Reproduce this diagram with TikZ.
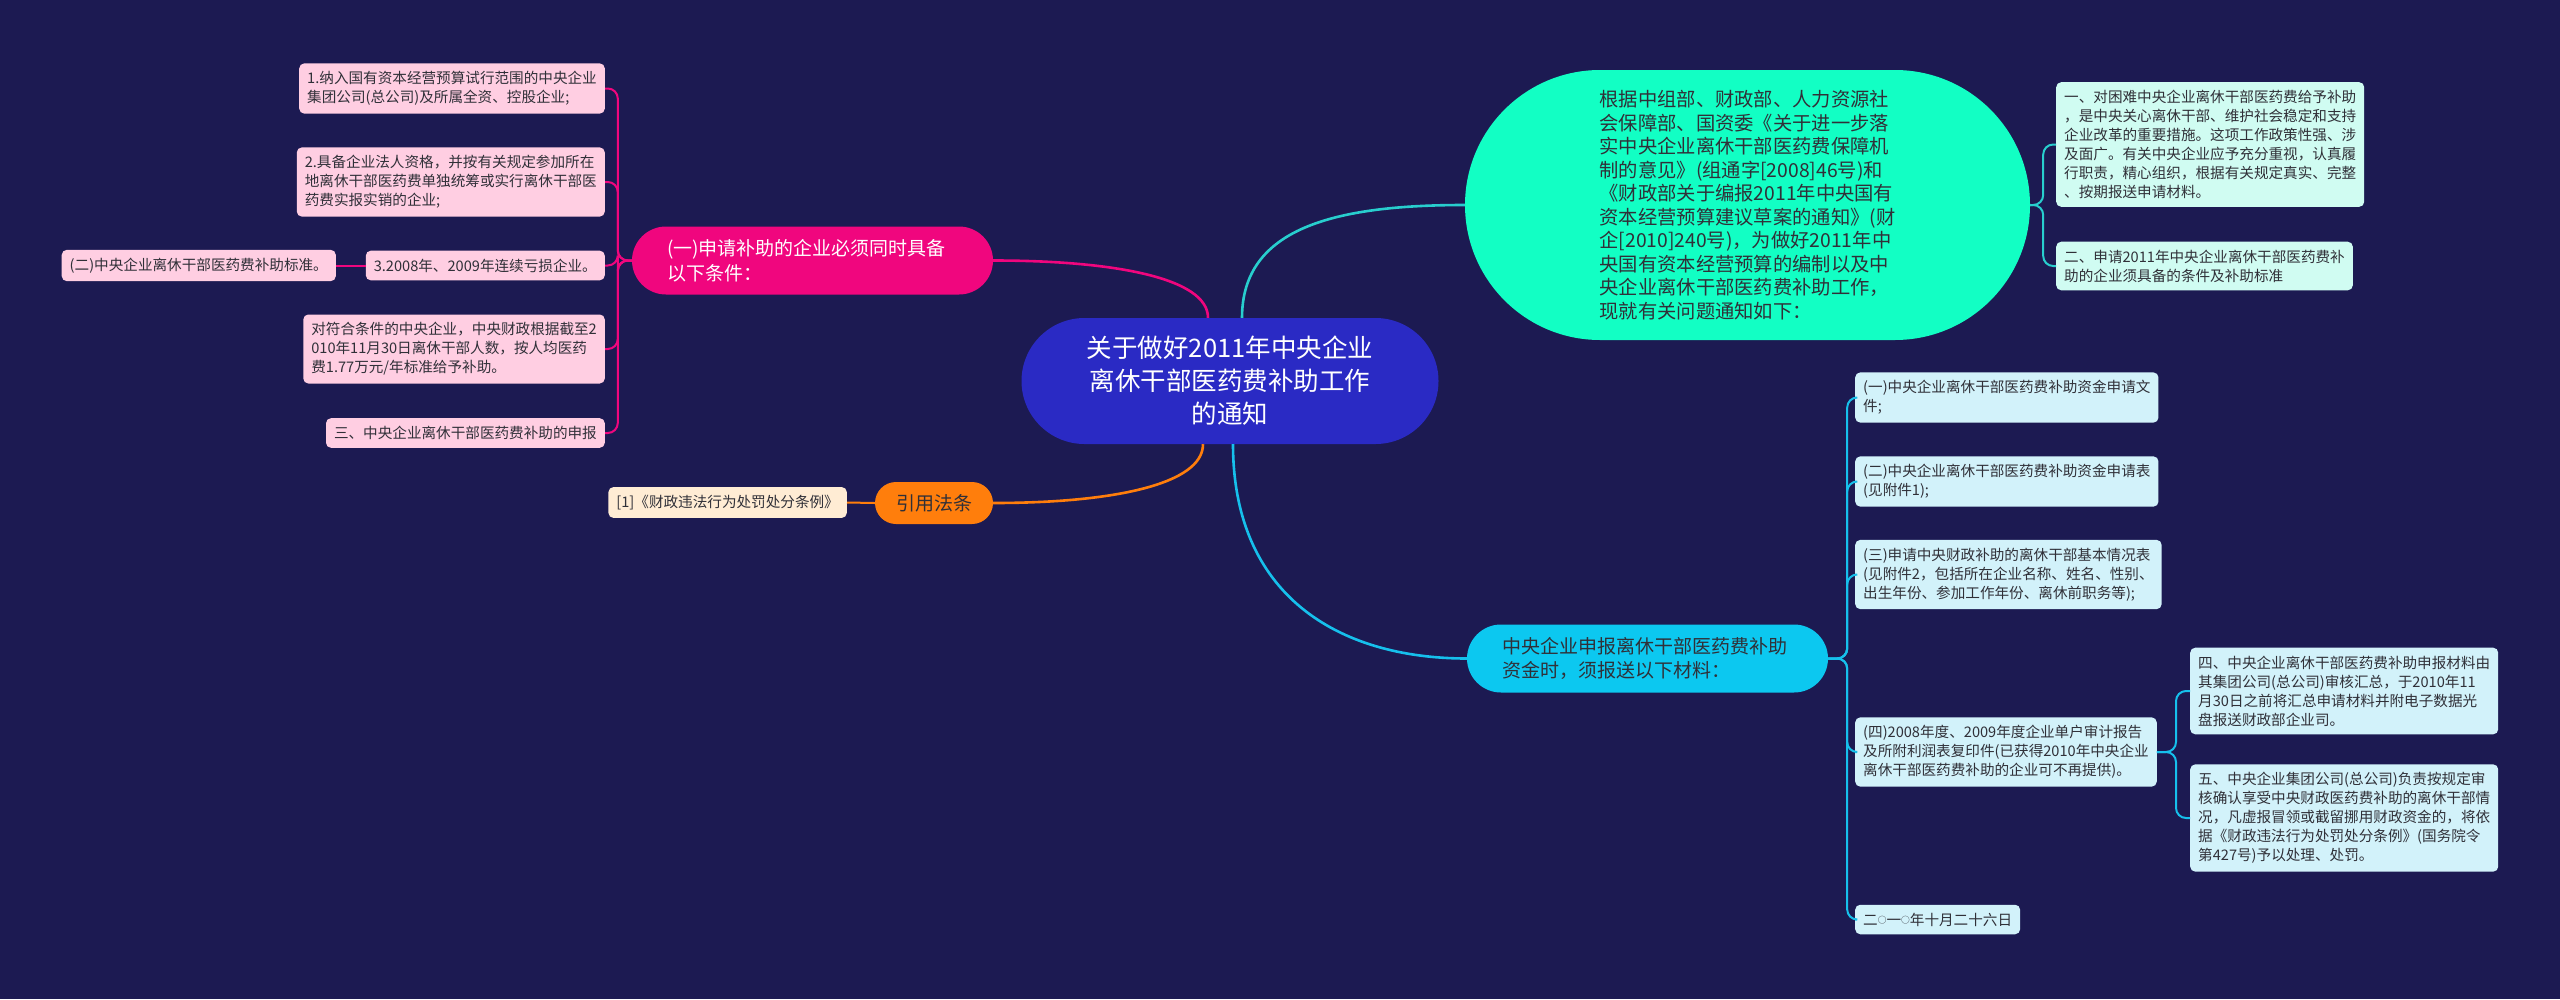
\documentclass[tikz,border=0pt]{standalone}
\usepackage{fontspec}
\setmainfont{Noto Sans CJK SC}
\usepackage{tikz}
\usetikzlibrary{positioning}
\definecolor{bgnavy}{RGB}{28,26,82}
\definecolor{rootblue}{RGB}{42,42,196}
\definecolor{condpink}{RGB}{240,6,126}
\definecolor{condleaf}{RGB}{255,206,226}
\definecolor{laworange}{RGB}{255,126,12}
\definecolor{lawleaf}{RGB}{255,236,212}
\definecolor{introgreen}{RGB}{18,255,196}
\definecolor{introleaf}{RGB}{208,252,242}
\definecolor{introline}{RGB}{40,206,206}
\definecolor{applycyan}{RGB}{12,200,240}
\definecolor{applyleaf}{RGB}{210,242,250}
\definecolor{applyline}{RGB}{22,192,236}
\definecolor{leaftext}{RGB}{48,48,56}
\newcommand{\smallring}{\raisebox{0.12em}{\scalebox{0.6}{○}}}
\tikzstyle{leafbox}=[rectangle,rounded corners=5pt,inner xsep=8pt,inner ysep=8pt,
                     align=left,text=leaftext,font=\fontsize{14.6}{19}\selectfont]
\tikzstyle{mainbox}=[rectangle,minimum width=361pt,minimum height=68pt,rounded corners=34pt,
                     text width=291pt,align=left,font=\fontsize{19}{24.5}\selectfont]
\tikzstyle{branch}=[line width=2.6pt]
\tikzstyle{twig}=[line width=2pt,rounded corners=10pt]

\begin{document}
\begin{tikzpicture}[x=1pt,y=-1pt]
  \fill[bgnavy] (0,0) rectangle (2560,999);
  \useasboundingbox (0,0) rectangle (2560,999);

  % centre
  \node[rectangle,fill=rootblue,text=white,minimum width=417pt,minimum height=126pt,
        rounded corners=63pt,align=center,font=\fontsize{25.5}{33}\selectfont]
        (root) at (1230,381) {关于做好2011年中央企业\\离休干部医药费补助工作\\的通知};

  % left branches
  \node[mainbox,fill=condpink,text=white] (cond) at (812.5,260.5)
        {(一)申请补助的企业必须同时具备\\以下条件：};
  \node[rectangle,fill=laworange,text=leaftext,minimum width=118pt,minimum height=42pt,
        rounded corners=21pt,font=\fontsize{19}{24}\selectfont] (law) at (934,503) {引用法条};

  \node[leafbox,fill=condleaf,anchor=east] (c1) at (605,88.5)
        {1.纳入国有资本经营预算试行范围的中央企业\\集团公司(总公司)及所属全资、控股企业;};
  \node[leafbox,fill=condleaf,anchor=east] (c2) at (605,182)
        {2.具备企业法人资格，并按有关规定参加所在\\地离休干部医药费单独统筹或实行离休干部医\\药费实报实销的企业;};
  \node[leafbox,fill=condleaf,anchor=east] (c3) at (605,265.5) {3.2008年、2009年连续亏损企业。};
  \node[leafbox,fill=condleaf,anchor=east] (c4) at (605,349)
        {对符合条件的中央企业，中央财政根据截至2\\010年11月30日离休干部人数，按人均医药\\费1.77万元/年标准给予补助。};
  \node[leafbox,fill=condleaf,anchor=east] (c5) at (605,433) {三、中央企业离休干部医药费补助的申报};
  \node[leafbox,fill=condleaf,anchor=east] (c3a) at (336,265.5) {(二)中央企业离休干部医药费补助标准。};

  \node[leafbox,fill=lawleaf,anchor=east] (l1) at (847,502.5) {[1]《财政违法行为处罚处分条例》};

  % right branches
  \node[rectangle,fill=introgreen,text=leaftext,minimum width=565pt,minimum height=270pt,
        rounded corners=135pt,align=left,font=\fontsize{19.3}{23.5}\selectfont]
        (intro) at (1747.5,205)
        {根据中组部、财政部、人力资源社\\会保障部、国资委《关于进一步落\\实中央企业离休干部医药费保障机\\制的意见》(组通字[2008]46号)和\\《财政部关于编报2011年中央国有\\资本经营预算建议草案的通知》(财\\企[2010]240号)，为做好2011年中\\央国有资本经营预算的编制以及中\\央企业离休干部医药费补助工作，\\现就有关问题通知如下：};
  \node[mainbox,fill=applycyan,text=leaftext] (apply) at (1647.5,658.5)
        {中央企业申报离休干部医药费补助\\资金时，须报送以下材料：};

  \node[leafbox,fill=introleaf,anchor=west] (i1) at (2056,144.5)
        {一、对困难中央企业离休干部医药费给予补助\\，是中央关心离休干部、维护社会稳定和支持\\企业改革的重要措施。这项工作政策性强、涉\\及面广。有关中央企业应予充分重视，认真履\\行职责，精心组织，根据有关规定真实、完整\\、按期报送申请材料。};
  \node[leafbox,fill=introleaf,anchor=west] (i2) at (2056,266)
        {二、申请2011年中央企业离休干部医药费补\\助的企业须具备的条件及补助标准};

  \node[leafbox,fill=applyleaf,anchor=west] (a1) at (1855,397.5)
        {(一)中央企业离休干部医药费补助资金申请文\\件;};
  \node[leafbox,fill=applyleaf,anchor=west] (a2) at (1855,481.5)
        {(二)中央企业离休干部医药费补助资金申请表\\(见附件1);};
  \node[leafbox,fill=applyleaf,anchor=west] (a3) at (1855,574.5)
        {(三)申请中央财政补助的离休干部基本情况表\\(见附件2，包括所在企业名称、姓名、性别、\\出生年份、参加工作年份、离休前职务等);};
  \node[leafbox,fill=applyleaf,anchor=west] (a4) at (1855,752)
        {(四)2008年度、2009年度企业单户审计报告\\及所附利润表复印件(已获得2010年中央企业\\离休干部医药费补助的企业可不再提供)。};
  \node[leafbox,fill=applyleaf,anchor=west] (adate) at (1855,919.5)
        {二\smallring 一\smallring 年十月二十六日};
  \node[leafbox,fill=applyleaf,anchor=west] (a4a) at (2190,691)
        {四、中央企业离休干部医药费补助申报材料由\\其集团公司(总公司)审核汇总，于2010年11\\月30日之前将汇总申请材料并附电子数据光\\盘报送财政部企业司。};
  \node[leafbox,fill=applyleaf,anchor=west] (a4b) at (2190,818)
        {五、中央企业集团公司(总公司)负责按规定审\\核确认享受中央财政医药费补助的离休干部情\\况，凡虚报冒领或截留挪用财政资金的，将依\\据《财政违法行为处罚处分条例》(国务院令\\第427号)予以处理、处罚。};
  \coordinate (a4trunk) at (2176,752);

  % connectors from the centre
  \draw[branch,condpink] ([xshift=-22pt]root.north) .. controls +(0,-40) and +(120,0) .. (cond.east);
  \draw[branch,laworange] ([xshift=-27pt]root.south) .. controls +(0,40) and +(120,0) .. (law.east);
  \draw[branch,introline] ([xshift=12pt]root.north) .. controls +(0,-90) and +(-130,0) .. (intro.west);
  \draw[branch,applyline] ([xshift=3pt]root.south) .. controls +(0,150) and +(-130,0) .. (apply.west);

  % leaf connectors
  \foreach \leaf in {c1,c2,c3,c4,c5}
    \draw[twig,condpink] (cond.west) -- ++(-14,0) |- (\leaf.east);
  \draw[twig,condpink] (c3.west) -- (c3a.east);
  \draw[twig,laworange] (law.west) -- (l1.east);
  \foreach \leaf in {i1,i2}
    \draw[twig,introline] (intro.east) -- ++(13,0) |- (\leaf.west);
  \foreach \leaf in {a1,a2,a3,a4,adate}
    \draw[twig,applyline] (apply.east) -- ++(19,0) |- (\leaf.west);
  \foreach \leaf in {a4a,a4b}
    \draw[twig,applyline] (a4.east) -- (a4trunk) |- (\leaf.west);
\end{tikzpicture}
\end{document}
